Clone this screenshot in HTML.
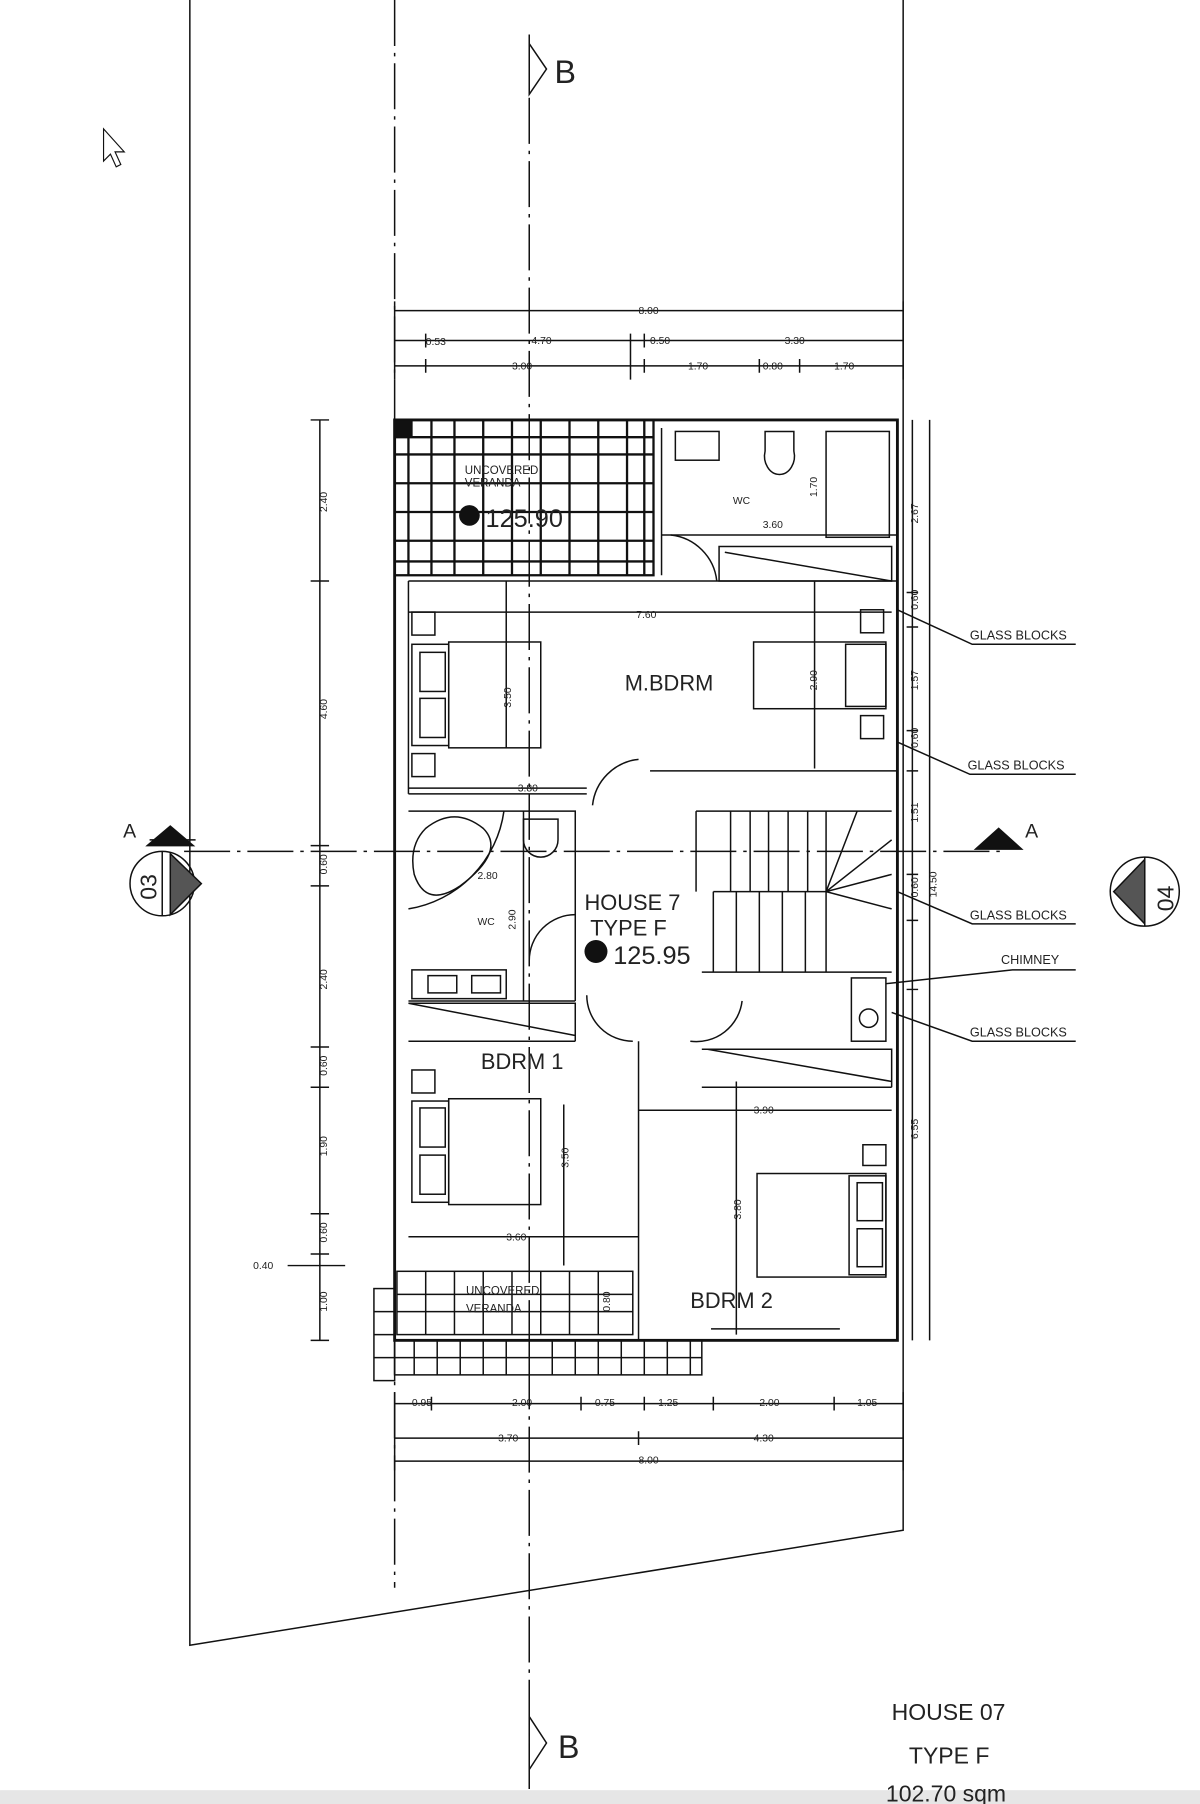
<!DOCTYPE html>
<html><head><meta charset="utf-8"><style>
html,body{margin:0;padding:0;background:#fff;}
svg{display:block}
text{font-family:"Liberation Sans",sans-serif;fill:#222}
</style></head><body>
<svg width="1200" height="1804" viewBox="0 0 1043 1568" xmlns="http://www.w3.org/2000/svg">
<rect width="1043" height="1568" fill="#fff"/>
<g stroke="#111" fill="none" stroke-width="1.3">
<path d="M165 0 V1430 L785 1330 V0"/>
<path d="M343 0 V1380" stroke-dasharray="40 6 3 6"/>
<path d="M460 30 V1568" stroke-dasharray="40 6 3 6"/>
<path d="M160 740 H870" stroke-dasharray="40 6 3 6"/>
<path d="M343 270 H785 M343 296 H785 M343 318 H785"/>
<path d="M343 262 V330 M785 262 V330 M370 290 V302 M548 290 V302 M560 290 V302 M548 294 V330 M370 312 V324 M560 312 V324 M660 312 V324 M695 312 V324"/>
<path d="M343 1220 H785 M343 1250 H785 M343 1270 H785"/>
<path d="M343 1210 V1278 M785 1210 V1278 M375 1214 V1226 M505 1214 V1226 M560 1214 V1226 M620 1214 V1226 M725 1214 V1226 M555 1244 V1256"/>
<path d="M278 365 V1165"/>
<path d="M270 365 H286 M270 505 H286 M270 735 H286 M270 770 H286 M270 910 H286 M270 945 H286 M270 1055 H286 M270 1090 H286 M270 1165 H286 M250 1100 H300"/>
<path d="M793 365 V1165 M808 365 V1165"/>
<path d="M788 515 H798 M788 545 H798 M788 635 H798 M788 670 H798 M788 760 H798 M788 800 H798 M788 860 H798"/>
<path d="M780 530 L845 560 H935 M780 645 L843 673 H935 M780 775 L845 803 H935 M770 855 L880 843 H935 M775 880 L845 905 H935"/>
<rect x="343" y="365" width="437" height="800" stroke-width="2.5"/>
<rect x="343" y="365" width="225" height="135" stroke-width="2"/>
<path d="M343 380 H568 M343 395 H568 M343 420 H568 M343 445 H568 M343 470 H568 M343 488 H568" stroke-width="2"/>
<path d="M355 365 V500 M375 365 V500 M395 365 V500 M420 365 V500 M445 365 V500 M470 365 V500 M495 365 V500 M520 365 V500 M545 365 V500 M560 365 V500" stroke-width="2"/>
<rect x="343" y="365" width="15" height="15" fill="#111"/>
<path d="M575 372 V465 H780 M575 500 V465"/>
<rect x="587" y="375" width="38" height="25"/>
<rect x="718" y="375" width="55" height="92"/>
<path d="M665 375 H690 V392 A13 16 0 1 1 665 392 Z"/>
<path d="M583 465 A45 45 0 0 1 623 505"/>
<rect x="625" y="475" width="150" height="30"/><path d="M630 480 L775 505"/>
<path d="M355 505 H780 M355 505 V690 M355 690 H510 M565 670 H780 V700"/>
<rect x="390" y="558" width="80" height="92"/><rect x="358" y="560" width="32" height="88"/>
<rect x="365" y="567" width="22" height="34"/><rect x="365" y="607" width="22" height="34"/>
<rect x="358" y="532" width="20" height="20"/><rect x="358" y="655" width="20" height="20"/>
<rect x="655" y="558" width="115" height="58"/><rect x="735" y="560" width="35" height="54"/>
<rect x="748" y="530" width="20" height="20"/><rect x="748" y="622" width="20" height="20"/>
<path d="M355 532 H775 M440 505 V650 M708 505 V668 M355 685 H510"/>
<path d="M555 660 A45 45 0 0 0 515 700"/>
<path d="M355 705 H500 V870 M455 705 V870 M355 870 H500 M355 790 A100 100 0 0 0 438 705"/>
<path d="M370 720 Q395 700 420 720 Q440 740 400 770 Q370 790 360 760 Q355 735 370 720Z"/>
<path d="M455 712 H485 V730 A15 15 0 1 1 455 730Z"/>
<rect x="358" y="843" width="82" height="25"/><rect x="372" y="848" width="25" height="15"/><rect x="410" y="848" width="25" height="15"/>
<path d="M460 835 A40 40 0 0 1 500 795 M550 905 A40 40 0 0 1 510 865 M600 905 A40 40 0 0 0 645 870"/>
<path d="M605 705 H775 M605 705 V775 M620 775 V845 M610 845 H775 M620 775 H718"/>
<path d="M635 705 V775 M652 705 V775 M668 705 V775 M685 705 V775 M702 705 V775 M718 705 V775 M640 775 V845 M660 775 V845 M680 775 V845 M700 775 V845 M718 775 V845 M718 775 L775 730 M718 775 L775 760 M718 775 L775 790 M718 775 L745 705"/>
<rect x="740" y="850" width="30" height="55"/><circle cx="755" cy="885" r="8"/>
<path d="M355 872 H500 V905 M355 872 L500 900 M355 905 H500 M555 905 V1165 M355 1075 H555 M555 965 H775 M610 912 H775 V945 M615 912 L775 940 M610 945 H775"/>
<rect x="390" y="955" width="80" height="92"/><rect x="358" y="957" width="32" height="88"/>
<rect x="365" y="963" width="22" height="34"/><rect x="365" y="1004" width="22" height="34"/>
<rect x="358" y="930" width="20" height="20"/>
<path d="M490 960 V1100"/>
<rect x="658" y="1020" width="112" height="90"/><rect x="738" y="1022" width="32" height="86"/>
<rect x="745" y="1028" width="22" height="33"/><rect x="745" y="1068" width="22" height="33"/>
<rect x="750" y="995" width="20" height="18"/>
<path d="M640 940 V1160 M618 1155 H730"/>
<rect x="345" y="1105" width="205" height="55"/>
<path d="M345 1125 H550 M345 1140 H550 M370 1105 V1160 M395 1105 V1160 M420 1105 V1160 M445 1105 V1160 M470 1105 V1160 M495 1105 V1160 M520 1105 V1160"/>
<rect x="325" y="1120" width="18" height="80"/>
<path d="M325 1140 H343 M325 1160 H343 M325 1180 H343"/>
<path d="M343 1165 H610 V1195 H343 Z M343 1180 H610 M360 1165 V1195 M380 1165 V1195 M400 1165 V1195 M420 1165 V1195 M440 1165 V1195 M460 1165 V1195 M480 1165 V1195 M500 1165 V1195 M520 1165 V1195 M540 1165 V1195 M560 1165 V1195 M580 1165 V1195 M600 1165 V1195"/>
<path d="M460 38 L475 60 L460 82 Z" />
<path d="M460 1492 L475 1515 L460 1538 Z"/>
<circle cx="141" cy="768" r="28"/><path d="M141 740 V796 M130 730 H170"/>
<path d="M128 735 L148 718 L168 735 Z" fill="#111"/>
<path d="M148 742 L175 768 L148 795 Z" fill="#555"/>
<circle cx="995" cy="775" r="30"/><path d="M995 745 V805"/>
<path d="M995 747 L968 775 L995 803 Z" fill="#555"/>
<path d="M848 738 L868 720 L888 738 Z" fill="#111"/>
<path d="M90 112 V140 L96 134 L101 145 L105 143 L100 132 H108 Z" stroke-width="1"/>
</g>
<circle cx="408" cy="448" r="9" fill="#111"/>
<circle cx="518" cy="827" r="10" fill="#111"/>
<rect x="0" y="1556" width="1043" height="12" fill="#e6e6e6"/>
<g font-size="9">
<text x="555" y="273">8.00</text>
<text x="370" y="300">0.53</text><text x="462" y="299">4.70</text><text x="565" y="299">0.50</text><text x="682" y="299">3.30</text>
<text x="445" y="321">3.00</text><text x="598" y="321">1.70</text><text x="663" y="321">0.80</text><text x="725" y="321">1.70</text>
<text x="358" y="1222">0.95</text><text x="445" y="1222">2.00</text><text x="517" y="1222">0.75</text><text x="572" y="1222">1.25</text><text x="660" y="1222">2.00</text><text x="745" y="1222">1.05</text>
<text x="433" y="1253">3.70</text><text x="655" y="1253">4.30</text><text x="555" y="1272">8.00</text>
<text x="220" y="1103">0.40</text>
<text x="553" y="537">7.60</text><text x="663" y="459">3.60</text><text x="450" y="688">3.80</text><text x="415" y="764">2.80</text><text x="440" y="1078">3.60</text><text x="655" y="968">3.90</text>
<text x="637" y="438">WC</text><text x="415" y="804">WC</text>
<text x="404" y="412" font-size="10">UNCOVERED</text><text x="404" y="423" font-size="10">VERANDA</text>
<text x="405" y="1125" font-size="10">UNCOVERED</text><text x="405" y="1141" font-size="10">VERANDA</text>
<text x="843" y="556" font-size="11">GLASS BLOCKS</text><text x="841" y="669" font-size="11">GLASS BLOCKS</text>
<text x="843" y="799" font-size="11">GLASS BLOCKS</text><text x="870" y="838" font-size="11">CHIMNEY</text><text x="843" y="901" font-size="11">GLASS BLOCKS</text>
</g>
<g font-size="9">
<text transform="translate(284,445) rotate(-90)">2.40</text><text transform="translate(284,625) rotate(-90)">4.60</text>
<text transform="translate(284,760) rotate(-90)">0.60</text><text transform="translate(284,860) rotate(-90)">2.40</text>
<text transform="translate(284,935) rotate(-90)">0.60</text><text transform="translate(284,1005) rotate(-90)">1.90</text>
<text transform="translate(284,1080) rotate(-90)">0.60</text><text transform="translate(284,1140) rotate(-90)">1.00</text>
<text transform="translate(798,455) rotate(-90)">2.67</text><text transform="translate(798,530) rotate(-90)">0.60</text>
<text transform="translate(798,600) rotate(-90)">1.57</text><text transform="translate(798,650) rotate(-90)">0.60</text>
<text transform="translate(798,715) rotate(-90)">1.51</text><text transform="translate(798,780) rotate(-90)">0.60</text>
<text transform="translate(814,780) rotate(-90)">14.50</text><text transform="translate(798,990) rotate(-90)">6.55</text>
<text transform="translate(444,615) rotate(-90)">3.50</text><text transform="translate(710,600) rotate(-90)">2.90</text>
<text transform="translate(710,432) rotate(-90)">1.70</text><text transform="translate(448,808) rotate(-90)">2.90</text>
<text transform="translate(494,1015) rotate(-90)">3.50</text><text transform="translate(644,1060) rotate(-90)">3.80</text>
<text transform="translate(530,1140) rotate(-90)">0.80</text>
</g>
<text x="543" y="600" font-size="19">M.BDRM</text>
<text x="508" y="791" font-size="19">HOUSE 7</text>
<text x="513" y="813" font-size="19">TYPE F</text>
<text x="533" y="838" font-size="22">125.95</text>
<text x="422" y="458" font-size="22" fill="#333">125.90</text>
<text x="418" y="929" font-size="19">BDRM 1</text>
<text x="600" y="1137" font-size="19">BDRM 2</text>
<text x="482" y="72" font-size="28">B</text><text x="485" y="1528" font-size="28">B</text>
<text x="107" y="728" font-size="17">A</text><text x="891" y="728" font-size="17">A</text>
<text transform="translate(136,782) rotate(-90)" font-size="20">03</text>
<text transform="translate(1020,792) rotate(-90)" font-size="20">04</text>
<text x="775" y="1495" font-size="20">HOUSE 07</text>
<text x="790" y="1533" font-size="20">TYPE F</text>
<text x="770" y="1566" font-size="20">102.70 sqm</text>
</svg>
</body></html>
